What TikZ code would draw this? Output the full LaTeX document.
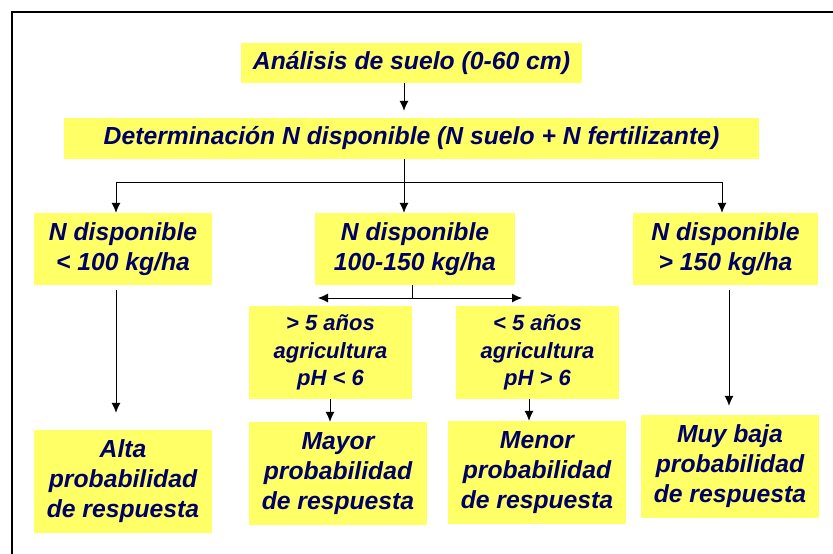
\documentclass[tikz,border=0pt]{standalone}
\usepackage{fontspec}
\setmainfont{Liberation Sans}
\usetikzlibrary{arrows.meta}
\definecolor{azul}{RGB}{0,0,102}
\definecolor{amarillo}{RGB}{255,255,102}

\tikzset{
caja/.style={fill=amarillo, text=azul, align=center, inner sep=0pt,
  font=\fontsize{24.7}{30}\selectfont\bfseries\itshape},
cajita/.style={caja, font=\fontsize{22}{27.5}\selectfont\bfseries\itshape},
flecha/.style={-{Latex[length=10pt,width=9pt]}, line width=0.8pt},
linea/.style={line width=0.8pt}
}

\begin{document}
\begin{tikzpicture}[x=1pt,y=-1pt]
\useasboundingbox (0,0) rectangle (833,554);
\draw[line width=2pt] (12,554)--(12,12)--(833,12);

\node[caja, minimum width=341pt, minimum height=40pt](analisis) at (411.5,63){Análisis de suelo (0-60 cm)};
\node[caja, minimum width=695pt, minimum height=41pt](det) at (411.5,138.5){Determinación N disponible (N suelo + N fertilizante)};

\node[caja, minimum width=178pt, minimum height=72pt](bajo) at (123,249){N disponible\\< 100 kg/ha};
\node[caja, minimum width=200pt, minimum height=72pt](medio) at (415,249){N disponible\\100-150 kg/ha};
\node[caja, minimum width=185pt, minimum height=72pt](alto) at (725.5,249){N disponible\\> 150 kg/ha};

\node[cajita, minimum width=163pt, minimum height=93pt](masde) at (330.5,352.5){> 5 años\\agricultura\\pH < 6};
\node[cajita, minimum width=163pt, minimum height=93pt](menosde) at (537.5,352.5){< 5 años\\agricultura\\pH > 6};

\node[caja, minimum width=178pt, minimum height=103pt](altaprob) at (123,481.5){Alta\\probabilidad\\de respuesta};
\node[caja, minimum width=178pt, minimum height=103pt](mayor) at (338,473.5){Mayor\\probabilidad\\de respuesta};
\node[caja, minimum width=178pt, minimum height=103pt](menor) at (537,472.5){Menor\\probabilidad\\de respuesta};
\node[caja, minimum width=178pt, minimum height=103pt](muybaja) at (730,466.5){Muy baja\\probabilidad\\de respuesta};

\coordinate (tronco) at (404,182);
\coordinate (ramaI) at (116,182);
\coordinate (ramaD) at (722,182);
\coordinate (nudo) at (412,298);
\coordinate (puntaI) at (318,298);
\coordinate (puntaD) at (522,298);
\coordinate (colD) at (729,290);
\coordinate (colM) at (330,400);
\coordinate (colN) at (529,400);

\draw[flecha, shorten >=7pt] (analisis.south -| tronco) -- (det.north -| tronco);
\draw[linea] (det.south -| tronco) -- (tronco);
\draw[linea] (ramaI) -- (ramaD);
\draw[flecha] (ramaI) -- (ramaI |- bajo.north);
\draw[flecha] (tronco) -- (tronco |- medio.north);
\draw[flecha] (ramaD) -- (ramaD |- alto.north);

\draw[linea] (medio.south -| nudo) -- (nudo);
\draw[flecha] (nudo) -- (puntaI);
\draw[flecha] (nudo) -- (puntaD);

\draw[flecha, shorten <=5pt, shorten >=17pt] (bajo.south -| ramaI) -- (ramaI |- altaprob.north);
\draw[flecha, shorten <=5pt, shorten >=9pt] (alto.south -| colD) -- (colD |- muybaja.north);
\draw[flecha] (masde.south -| colM) -- (colM |- mayor.north);
\draw[flecha] (menosde.south -| colN) -- (colN |- menor.north);
\end{tikzpicture}
\end{document}
